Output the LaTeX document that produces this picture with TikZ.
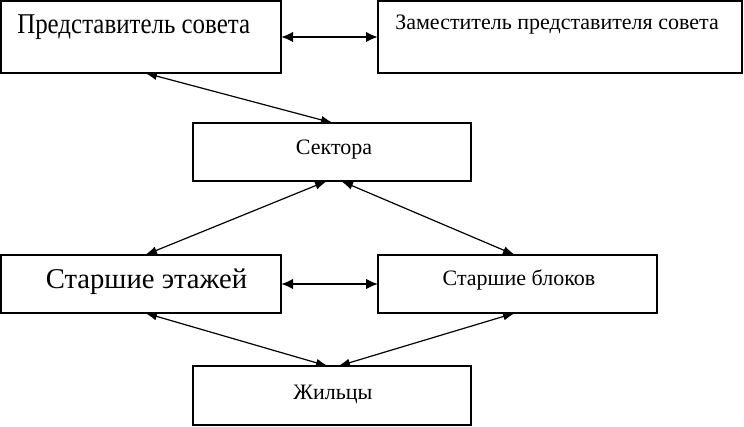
\documentclass[tikz,border=0pt]{standalone}
\usepackage{fontspec}
\setmainfont{Liberation Serif}
\usepackage{tikz}
\usetikzlibrary{positioning,calc,arrows.meta}
\tikzset{box/.style={draw, line width=1.5pt, inner sep=0pt, outer sep=0pt}}
\tikzset{lbl/.style={inner sep=0pt, font=#1}}
\tikzset{arr/.style={draw, {Latex[length=9pt,width=6pt]}-{Latex[length=9pt,width=6pt]}, line width=0.9pt}}
\tikzset{arrthick/.style={draw, {Latex[length=9pt,width=8pt]}-{Latex[length=9pt,width=8pt]}, line width=2.2pt}}
\newcommand{\bigtxt}{\fontsize{21.5pt}{24pt}\selectfont}
\newcommand{\smalltxt}{\fontsize{16.5pt}{19pt}\selectfont}

\begin{document}
\begin{tikzpicture}[x=0.75pt, y=-0.75pt]
			\useasboundingbox (0,0) rectangle (744,427);
			% boxes
			\node[box, minimum width=210pt, minimum height=54pt] (pred) at (141,37) {};
			\node[box, minimum width=273pt, minimum height=54pt] (zam) at (560,37) {};
			\node[box, minimum width=208.5pt, minimum height=43.5pt] (sect) at (332,152) {};
			\node[box, minimum width=210pt, minimum height=43.5pt] (etazh) at (141,284) {};
			\node[box, minimum width=209pt, minimum height=43.5pt] (blok) at (517.5,284) {};
			\node[box, minimum width=208.5pt, minimum height=44pt] (zhil) at (332,395.5) {};
			%
			\node[lbl=\bigtxt\addfontfeature{FakeStretch=0.87}, anchor=base west] (predt) at (17,34) {Представитель совета};
			\node[lbl=\smalltxt, anchor=base west] (zamt) at (395,30) {Заместитель представителя совета};
			\node[lbl=\smalltxt, anchor=base] (sectt) at (334,155) {Сектора};
			\node[lbl=\bigtxt, anchor=base] (etazht) at (146.5,289) {Старшие этажей};
			\node[lbl=\smalltxt, anchor=base] (blokt) at (519,286) {Старшие блоков};
			\node[lbl=\smalltxt, anchor=base] (zhilt) at (333,400) {Жильцы};
			%
			\draw[arrthick] (pred.east) -- (zam.west);
			\draw[arrthick] (etazh.east) -- (blok.west);
			\draw[arr] ($(pred.south)+(4,0)$) -- ($(sect.north)+(1,0)$);
			\draw[arr] ($(sect.south)+(-5,0)$) -- ($(etazh.north)+(4,0)$);
			\draw[arr] ($(sect.south)+(9,0)$) -- ($(blok.north)+(-2.5,0)$);
			\draw[arr] ($(etazh.south)+(4,0)$) -- ($(zhil.north)+(-4,0)$);
			\draw[arr] ($(blok.south)+(-2.5,0)$) -- ($(zhil.north)+(6,0)$);
		\end{tikzpicture}
\end{document}
